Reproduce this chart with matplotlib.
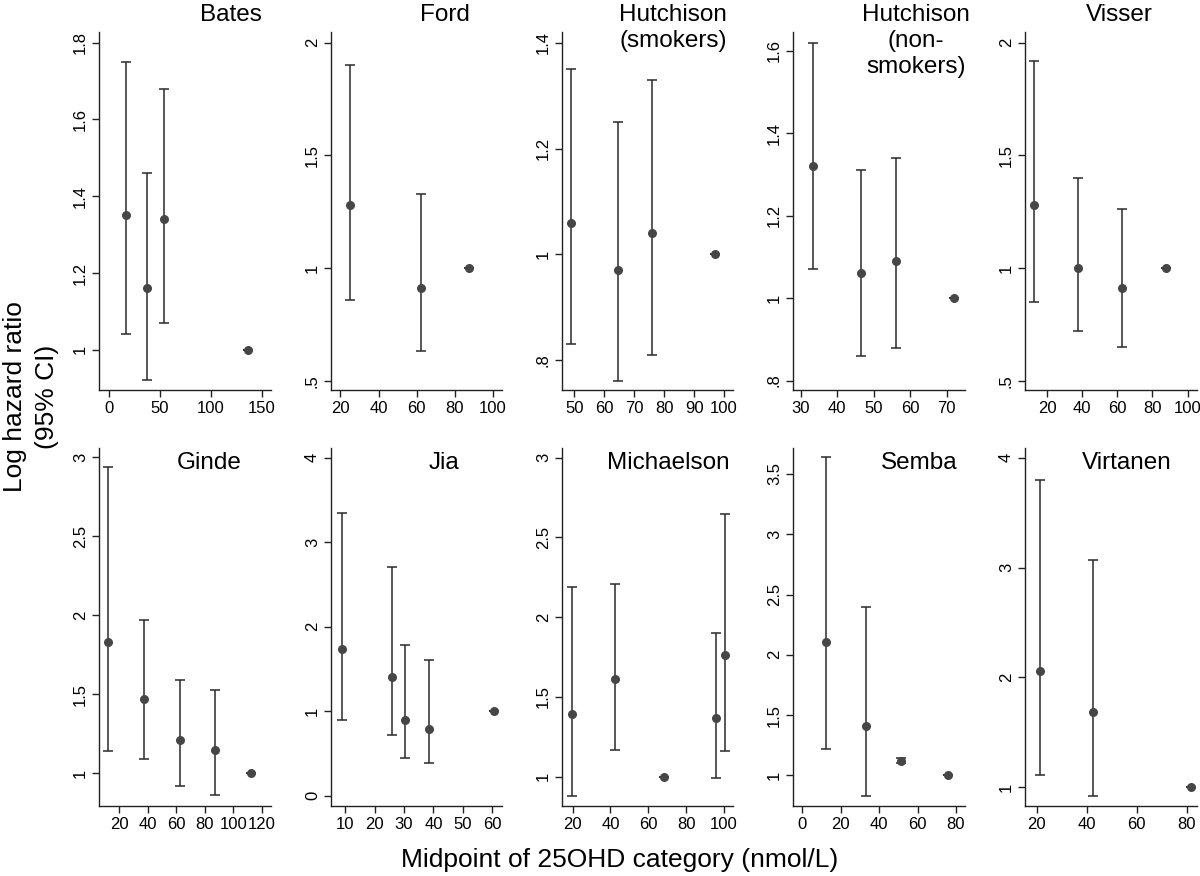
import matplotlib
matplotlib.use("Agg")
import matplotlib.pyplot as plt
from matplotlib.ticker import FuncFormatter

studies = ["Bates", "Ford", "Hutchison\n(smokers)", "Hutchison\n(non-\nsmokers)", "Visser",
           "Ginde", "Jia", "Michaelson", "Semba", "Virtanen"]

midpoints = [
    [17, 37, 54, 136],
    [25, 62.5, 87.5],
    [49, 64.5, 76, 97],
    [33.5, 46.5, 56, 72],
    [12.5, 37.5, 62.5, 87.5],
    [12.5, 37.5, 62.5, 87.5, 112.5],
    [9, 26, 30.5, 38.5, 60.5],
    [19.5, 42.5, 68.5, 95.5, 100.5],
    [12.5, 33, 51.5, 76],
    [21.5, 42.5, 81.5],
]
hazard = [
    [1.35, 1.16, 1.34, 1.0],
    [1.28, 0.91, 1.0],
    [1.06, 0.97, 1.04, 1.0],
    [1.32, 1.06, 1.09, 1.0],
    [1.28, 1.0, 0.91, 1.0],
    [1.83, 1.47, 1.21, 1.15, 1.0],
    [1.74, 1.40, 0.90, 0.79, 1.0],
    [1.39, 1.61, 1.0, 1.37, 1.76],
    [2.11, 1.41, 1.12, 1.0],
    [2.06, 1.68, 1.0],
]
ci_low = [
    [1.04, 0.92, 1.07, 1.0],
    [0.86, 0.63, 1.0],
    [0.83, 0.76, 0.81, 1.0],
    [1.07, 0.86, 0.88, 1.0],
    [0.85, 0.72, 0.65, 1.0],
    [1.14, 1.09, 0.92, 0.86, 1.0],
    [0.90, 0.72, 0.45, 0.39, 1.0],
    [0.88, 1.17, 1.0, 0.99, 1.16],
    [1.22, 0.83, 1.10, 1.0],
    [1.11, 0.92, 1.0],
]
ci_high = [
    [1.75, 1.46, 1.68, 1.0],
    [1.90, 1.33, 1.0],
    [1.35, 1.25, 1.33, 1.0],
    [1.62, 1.31, 1.34, 1.0],
    [1.92, 1.40, 1.26, 1.0],
    [2.94, 1.97, 1.59, 1.53, 1.0],
    [3.34, 2.70, 1.78, 1.61, 1.0],
    [2.19, 2.21, 1.0, 1.90, 2.65],
    [3.64, 2.40, 1.14, 1.0],
    [3.80, 3.07, 1.0],
]
x_ticks = [
    [0, 50, 100, 150],
    [20, 40, 60, 80, 100],
    [50, 60, 70, 80, 90, 100],
    [30, 40, 50, 60, 70],
    [20, 40, 60, 80, 100],
    [20, 40, 60, 80, 100, 120],
    [10, 20, 30, 40, 50, 60],
    [20, 40, 60, 80, 100],
    [0, 20, 40, 60, 80],
    [20, 40, 60, 80],
]
y_ticks = [
    [1, 1.2, 1.4, 1.6, 1.8],
    [0.5, 1, 1.5, 2],
    [0.8, 1, 1.2, 1.4],
    [0.8, 1, 1.2, 1.4, 1.6],
    [0.5, 1, 1.5, 2],
    [1, 1.5, 2, 2.5, 3],
    [0, 1, 2, 3, 4],
    [1, 1.5, 2, 2.5, 3],
    [1, 1.5, 2, 2.5, 3, 3.5],
    [1, 2, 3, 4],
]

# layout (pixels in a 1200x876 canvas)
W, H = 1200, 876
xlims = [(-9.8, 159), (15.1, 104.7), (45.9, 103), (27.9, 75), (7.4, 105.4),
         (6, 126.5), (5.2, 63.3), (14.4, 104.7), (-4.9, 84.7), (15.4, 84)]
ylims = [(0.895, 1.827), (0.459, 2.046), (0.743, 1.42), (0.777, 1.645), (0.459, 2.046),
         (0.795, 3.057), (-0.118, 4.11), (0.818, 3.059), (0.748, 3.713), (0.83, 4.086)]
col_left = [99, 331, 562, 793, 1025]
col_right = [271, 502, 733, 965, 1197]
row_top = [32.3, 448.3]
row_bottom = [390, 805.7]
title_right_top = [262, 470, 727, 970, 1153]
title_right_bottom = [242, 459, 730, 958, 1172]

def fmt(v, pos):
    s = ("%g" % v)
    if s.startswith("0."):
        s = s[1:]
    return s

plt.rcParams['font.family'] = ['Liberation Sans', 'DejaVu Sans']
fig = plt.figure(figsize=(12, 8.76), dpi=100)

mcol = "#464646"
lcol = "#2a2a2a"

for i, name in enumerate(studies):
    r, c = divmod(i, 5)
    l = col_left[c] / W
    b = 1 - row_bottom[r] / H
    w = (col_right[c] - col_left[c]) / W
    h = (row_bottom[r] - row_top[r]) / H
    ax = fig.add_axes([l, b, w, h])
    xs = midpoints[i]
    ys = hazard[i]
    lo = [y - a for y, a in zip(ys, ci_low[i])]
    hi = [a - y for y, a in zip(ys, ci_high[i])]
    ax.errorbar(xs, ys, yerr=[lo, hi], fmt='none', ecolor=lcol, elinewidth=1.1,
                capsize=3.5, capthick=1.1, zorder=2)
    ax.plot(xs, ys, 'o', color=mcol, markersize=6.5, markeredgewidth=0, zorder=3)
    ax.set_xlim(*xlims[i])
    ax.set_ylim(*ylims[i])
    ax.set_xticks(x_ticks[i])
    ax.set_yticks(y_ticks[i])
    ax.yaxis.set_major_formatter(FuncFormatter(fmt))
    for s in ("top", "right"):
        ax.spines[s].set_visible(False)
    for s in ("left", "bottom"):
        ax.spines[s].set_linewidth(1.0)
        ax.spines[s].set_color("#222222")
    ax.tick_params(axis='both', direction='out', length=5, width=1, color="#222222",
                   labelsize=12, pad=3)
    for lab in ax.get_yticklabels():
        lab.set_rotation(90)
        lab.set_va('center')
    ax.patch.set_alpha(0)
    if r == 0:
        fig.text(title_right_top[c] / W, 1 - 4 / H, name, ha='right', va='top',
                 fontsize=17.5, multialignment='center', linespacing=1.25)
    else:
        fig.text(title_right_bottom[c] / W, 1 - 452 / H, name, ha='right', va='top',
                 fontsize=17.5)

fig.text(31 / W, 1 - 397 / H, "Log hazard ratio\n(95% CI)", rotation=90, ha='center',
         va='center', fontsize=19, multialignment='center', linespacing=1.4)
fig.text(620 / W, 1 - 860 / H, "Midpoint of 25OHD category (nmol/L)", ha='center',
         va='center', fontsize=19)

fig.savefig("out.png", dpi=100, facecolor="white")
